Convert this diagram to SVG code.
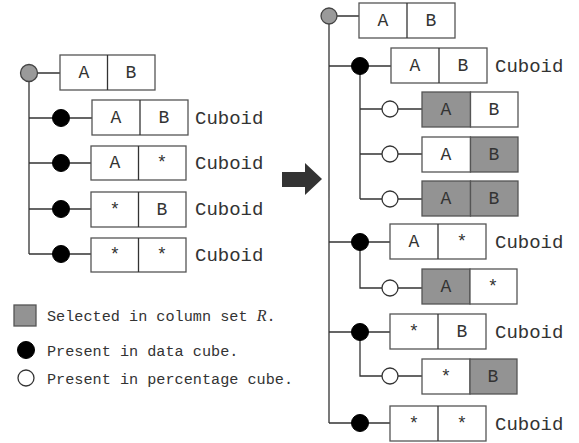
<svg xmlns="http://www.w3.org/2000/svg" width="579" height="443" viewBox="0 0 579 443">
<defs>
<style>
.ln{stroke:#333;stroke-width:1.3;fill:none}
.bx{fill:#fff;stroke:#555;stroke-width:1.3}
.sel{fill:#939393;stroke:#555;stroke-width:1.3}
.root{fill:#9a9a9a;stroke:#444;stroke-width:1.3}
.data{fill:#000;stroke:#000;stroke-width:1}
.pct{fill:#fff;stroke:#333;stroke-width:1.3}
.t{font-family:"Liberation Mono","Courier New",monospace;font-size:18px;fill:#333;text-anchor:middle}
.c{font-family:"Liberation Mono","Courier New",monospace;font-size:19px;fill:#333}
.lg{font-family:"Liberation Mono","Courier New",monospace;font-size:15.2px;fill:#333}
</style>
</defs>
<rect width="579" height="443" fill="#fff"/>
<g id="connectors">
<path class="ln" d="M37 73H60 M29 81V254 M29 118H53 M70 118H92 M29 163H53 M70 163H91 M29 209H53 M70 209H91 M29 254H53 M70 254H91"/>
<path class="ln" d="M337 16H359 M329 24V423 M329 66H352 M368 66H391 M360 74V199 M360 109H382 M398 109H422 M360 154H382 M398 154H422 M360 199H382 M398 199H422"/>
<path class="ln" d="M329 242H352 M368 242H390 M360 250V288H382 M398 288H422"/>
<path class="ln" d="M329 332H352 M368 332H390 M360 340V376H382 M398 376H422"/>
<path class="ln" d="M329 423H352 M368 423H390"/>
</g>
<g id="arrow"><polygon points="282,172 305,172 305,163 322,179 305,195 305,187 282,187" fill="#333"/></g>
<g id="L-root"><circle class="root" cx="29" cy="73" r="8.5"/><rect class="bx" x="60" y="55" width="95" height="35"/><line class="ln" x1="107.5" y1="55" x2="107.5" y2="90"/><text class="t" x="84" y="78">A</text><text class="t" x="131" y="78">B</text></g>
<g id="L-AB"><circle class="data" cx="61" cy="118" r="8.5"/><rect class="bx" x="92" y="100" width="96" height="35"/><line class="ln" x1="140" y1="100" x2="140" y2="135"/><text class="t" x="116" y="123">A</text><text class="t" x="164" y="123">B</text><text class="c" x="195" y="123.5">Cuboid</text></g>
<g id="L-Astar"><circle class="data" cx="61" cy="163" r="8.5"/><rect class="bx" x="91" y="146" width="95" height="34"/><line class="ln" x1="138.5" y1="146" x2="138.5" y2="180"/><text class="t" x="115" y="168">A</text><text class="t" x="162" y="168">*</text><text class="c" x="195" y="169">Cuboid</text></g>
<g id="L-starB"><circle class="data" cx="61" cy="209" r="8.5"/><rect class="bx" x="91" y="192" width="95" height="35"/><line class="ln" x1="138.5" y1="192" x2="138.5" y2="227"/><text class="t" x="115" y="214.5">*</text><text class="t" x="162" y="214.5">B</text><text class="c" x="195" y="215">Cuboid</text></g>
<g id="L-starstar"><circle class="data" cx="61" cy="254" r="8.5"/><rect class="bx" x="91" y="238" width="95" height="34"/><line class="ln" x1="138.5" y1="238" x2="138.5" y2="272"/><text class="t" x="115" y="260">*</text><text class="t" x="162" y="260">*</text><text class="c" x="195" y="260.5">Cuboid</text></g>
<g id="legend">
<rect class="sel" x="14" y="305" width="22" height="21"/>
<text class="lg" x="47" y="321">Selected in column set <tspan font-family="'Liberation Serif',serif" font-style="italic" font-size="16">R</tspan>.</text>
<circle class="data" cx="26" cy="350" r="8.5"/>
<text class="lg" x="47" y="355.5">Present in data cube.</text>
<circle class="pct" cx="26" cy="378" r="8"/>
<text class="lg" x="47" y="384">Present in percentage cube.</text>
</g>
<g id="R-root"><circle class="root" cx="329" cy="16" r="8"/><rect class="bx" x="359" y="3" width="96" height="35"/><line class="ln" x1="407" y1="3" x2="407" y2="38"/><text class="t" x="383" y="26">A</text><text class="t" x="431" y="26">B</text></g>
<g id="R-AB"><circle class="data" cx="360" cy="66" r="8.5"/><rect class="bx" x="391" y="48" width="96" height="35"/><line class="ln" x1="439" y1="48" x2="439" y2="83"/><text class="t" x="415" y="71">A</text><text class="t" x="463" y="71">B</text><text class="c" x="495" y="72">Cuboid</text></g>
<g id="R-AB-1"><circle class="pct" cx="390" cy="109" r="8"/><rect class="sel" x="422" y="92" width="48.5" height="35"/><rect class="bx" x="470.5" y="92" width="47.5" height="35"/><text class="t" x="446" y="115">A</text><text class="t" x="494" y="115">B</text></g>
<g id="R-AB-2"><circle class="pct" cx="390" cy="154" r="8"/><rect class="bx" x="422" y="137" width="48.5" height="35"/><rect class="sel" x="470.5" y="137" width="47.5" height="35"/><text class="t" x="446" y="160">A</text><text class="t" x="494" y="160">B</text></g>
<g id="R-AB-3"><circle class="pct" cx="390" cy="199" r="8"/><rect class="sel" x="422" y="181" width="48.5" height="35"/><rect class="sel" x="470.5" y="181" width="47.5" height="35"/><text class="t" x="446" y="204">A</text><text class="t" x="494" y="204">B</text></g>
<g id="R-Astar"><circle class="data" cx="360" cy="242" r="8.5"/><rect class="bx" x="390" y="224" width="96" height="35"/><line class="ln" x1="438" y1="224" x2="438" y2="259"/><text class="t" x="414" y="247">A</text><text class="t" x="462" y="247">*</text><text class="c" x="495" y="248">Cuboid</text></g>
<g id="R-Astar-1"><circle class="pct" cx="390" cy="288" r="8"/><rect class="sel" x="422" y="269" width="48" height="35"/><rect class="bx" x="470" y="269" width="47" height="35"/><text class="t" x="446" y="292">A</text><text class="t" x="493" y="292">*</text></g>
<g id="R-starB"><circle class="data" cx="360" cy="332" r="8.5"/><rect class="bx" x="390" y="314" width="96" height="35"/><line class="ln" x1="438" y1="314" x2="438" y2="349"/><text class="t" x="414" y="337">*</text><text class="t" x="462" y="337">B</text><text class="c" x="495" y="338">Cuboid</text></g>
<g id="R-starB-1"><circle class="pct" cx="390" cy="376" r="8"/><rect class="bx" x="422" y="359" width="48" height="35"/><rect class="sel" x="470" y="359" width="47" height="35"/><text class="t" x="446" y="382">*</text><text class="t" x="493" y="382">B</text></g>
<g id="R-starstar"><circle class="data" cx="360" cy="423" r="8.5"/><rect class="bx" x="390" y="406" width="96" height="35"/><line class="ln" x1="438" y1="406" x2="438" y2="441"/><text class="t" x="414" y="429">*</text><text class="t" x="462" y="429">*</text><text class="c" x="495" y="429.5">Cuboid</text></g>
</svg>
